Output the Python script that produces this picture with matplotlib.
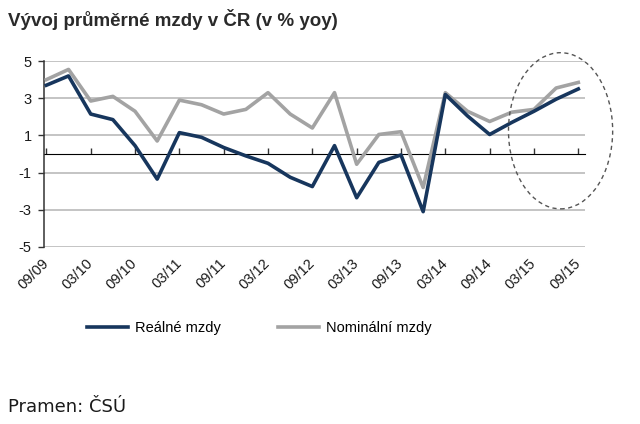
import matplotlib
matplotlib.use("Agg")
import matplotlib.pyplot as plt
from matplotlib.patches import Ellipse

# -----------------------------
# Data: quarterly yoy wage growth, 09/09 .. 09/15
# -----------------------------
tick_labels = ["09/09", "03/10", "09/10", "03/11", "09/11", "03/12", "09/12",
               "03/13", "09/13", "03/14", "09/14", "03/15", "09/15"]

real_wages = [3.7, 4.2, 2.15, 1.85, 0.45, -1.35, 1.15, 0.9, 0.35, -0.1, -0.5,
              -1.25, -1.75, 0.45, -2.35, -0.45, -0.05, -3.1, 3.2, 2.05, 1.05,
              1.7, 2.3, 2.95, 3.5]
nominal_wages = [4.0, 4.55, 2.85, 3.1, 2.3, 0.7, 2.9, 2.65, 2.15, 2.4, 3.3,
                 2.15, 1.4, 3.3, -0.55, 1.05, 1.2, -1.8, 3.3, 2.3, 1.75, 2.25,
                 2.4, 3.55, 3.85]

y_ticks = [5, 3, 1, -1, -3, -5]

dark_blue = "#17365d"
grey = "#a3a3a3"
text_col = "#1a1a1a"
font_list = ["Liberation Sans", "DejaVu Sans"]

quarters = list(range(len(real_wages)))
tick_pos = quarters[::2]

# -----------------------------
# Figure
# -----------------------------
fig = plt.figure(figsize=(6.4, 4.24), dpi=100)
ax = fig.add_axes([0.069, 0.4175, 0.845, 0.4385])

for y in y_ticks:
    ax.axhline(y, color="#b4b4b4", lw=1.1, zorder=1)

ax.plot(quarters, nominal_wages, color=grey, lw=2.6, label="Nominální mzdy", zorder=3)
ax.plot(quarters, real_wages, color=dark_blue, lw=2.6, label="Reálné mzdy", zorder=4)

ax.set_xlim(-0.1, 24.3)
ax.set_ylim(-5, 5)

ax.set_yticks(y_ticks)
ax.set_yticklabels([str(v) for v in y_ticks], fontsize=10.5, color=text_col,
                   family=font_list)
ax.tick_params(axis="y", length=4, width=1, color="#333333", pad=5)

ax.set_xticks(tick_pos)
ax.set_xticklabels(tick_labels, rotation=45, ha="right", va="center",
                   rotation_mode="anchor", fontsize=10.5, color=text_col,
                   family=font_list)
ax.tick_params(axis="x", length=0, pad=10)

for s in ["top", "right", "bottom"]:
    ax.spines[s].set_visible(False)
ax.spines["left"].set_color("#333333")
ax.spines["left"].set_linewidth(1.1)

# zero axis with small tick marks
zero_ax = ax.secondary_xaxis(0.5)
zero_ax.set_xticks(tick_pos)
zero_ax.set_xticklabels([])
zero_ax.tick_params(length=4, width=1, color="#333333", direction="out")
zero_ax.spines["bottom"].set_color("#333333")
zero_ax.spines["bottom"].set_linewidth(1.2)

# dashed ellipse highlighting 2015
ax.add_patch(Ellipse((23.2, 1.25), width=4.7, height=8.4, fill=False,
                     ls=(0, (3, 2.5)), lw=1.0, color="#555555", clip_on=False,
                     zorder=5))

# legend
handles, labels = ax.get_legend_handles_labels()
fig.legend(handles[::-1], labels[::-1], loc="center", bbox_to_anchor=(0.405, 0.227),
           ncol=2, frameon=False, handlelength=2.8, handletextpad=0.5,
           columnspacing=3.9, prop={"family": font_list, "size": 10.5})

fig.text(0.0125, 0.953, "Vývoj průměrné mzdy v ČR (v % yoy)", fontsize=13.5,
         fontweight="bold", color="#2a2a2a", va="center", family=font_list)
fig.text(0.0125, 0.04, "Pramen: ČSÚ", fontsize=13, color=text_col, va="center",
         family=["DejaVu Sans"])

fig.savefig("out.png", dpi=100)
